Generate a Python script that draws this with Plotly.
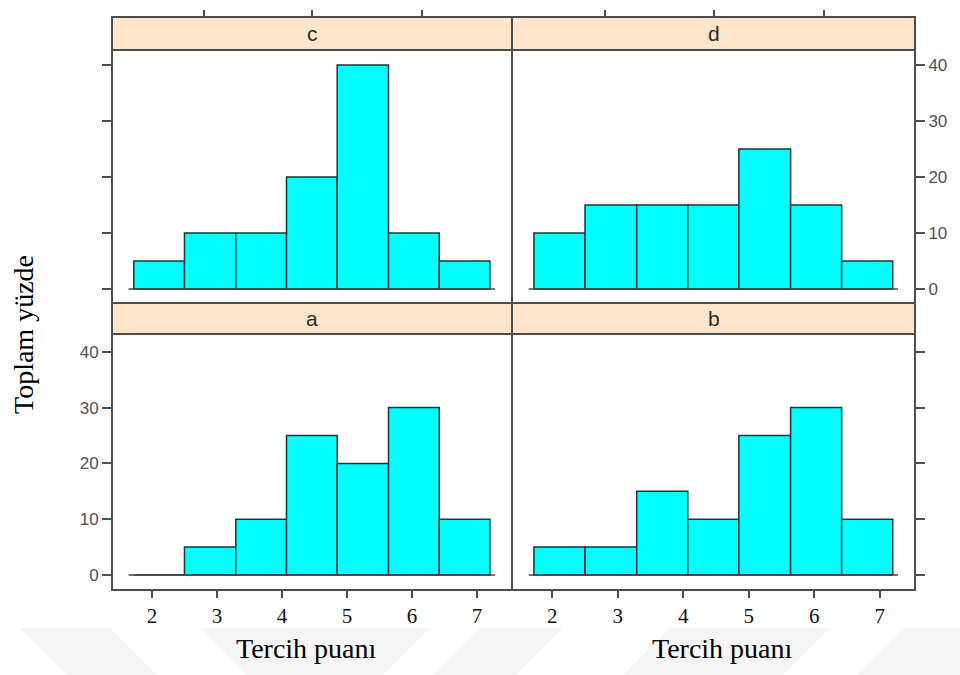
import plotly.graph_objects as go

# ---------------- data ----------------
panels = ["c", "d", "a", "b"]
bin_edges = [1.72, 2.50, 3.29, 4.07, 4.85, 5.64, 6.42, 7.20]
pct_c = [5, 10, 10, 20, 40, 10, 5]
pct_d = [10, 15, 15, 15, 25, 15, 5]
pct_a = [0, 5, 10, 25, 20, 30, 10]
pct_b = [5, 5, 15, 10, 25, 30, 10]
x_tick_vals = [2, 3, 4, 5, 6, 7]
x_tick_text = ["2", "3", "4", "5", "6", "7"]
top_tick_vals = [2.80, 4.47, 6.15]
y_tick_vals = [0, 10, 20, 30, 40]
y_tick_text = ["0", "10", "20", "30", "40"]
x_title = "Tercih puanı"
y_title = "Toplam yüzde"

W, H = 960, 675
def fx(p): return p / W
def fy(p): return 1 - p / H

centers = [(bin_edges[i] + bin_edges[i + 1]) / 2 for i in range(len(bin_edges) - 1)]
widths = [bin_edges[i + 1] - bin_edges[i] for i in range(len(bin_edges) - 1)]

BAR = "#00FFFF"
EDGE = "#1d3636"
FRAME = "#4d4d4d"
STRIP = "#FFE5CC"

x_range = [1.385, 7.54]
# pixel layout
L, M, R = 112, 512, 915
TOP_STRIP = (17, 50)
TOP_PLOT = (50, 303)
BOT_STRIP = (303, 334)
BOT_PLOT = (334, 590)

fig = go.Figure()
series = {"c": pct_c, "d": pct_d, "a": pct_a, "b": pct_b}
for i, name in enumerate(panels):
    ax = "" if i == 0 else str(i + 1)
    fig.add_trace(go.Scatter(
        x=[bin_edges[0] - 0.08, bin_edges[-1] + 0.08], y=[0, 0],
        mode="lines", line=dict(color="#3a4a4a", width=1.6),
        xaxis="x" + ax, yaxis="y" + ax, hoverinfo="skip"))
    fig.add_trace(go.Bar(
        x=centers, y=series[name], width=widths,
        marker=dict(color=BAR, line=dict(color=EDGE, width=1.5)),
        xaxis="x" + ax, yaxis="y" + ax))

tickfont_y = dict(family="Liberation Sans", size=17, color="#505050")
tickfont_x = dict(family="Liberation Serif", size=21, color="#111")

common_x = dict(range=x_range, showgrid=False, zeroline=False, showline=False,
                ticks="outside", ticklen=7, tickwidth=1.5, tickcolor=FRAME)
common_y = dict(showgrid=False, zeroline=False, showline=False,
                ticks="outside", ticklen=9, tickwidth=1.5, tickcolor=FRAME,
                tickvals=y_tick_vals, ticktext=y_tick_text, tickfont=tickfont_y)

top_yr = [-2.5, 42.7]
bot_yr = [-2.7, 43.2]

fig.update_layout(
    width=W, height=H, margin=dict(l=0, r=0, t=0, b=0),
    paper_bgcolor="white", plot_bgcolor="white", showlegend=False,
    xaxis=dict(domain=[fx(L), fx(M)], side="top", anchor="free", position=fy(TOP_STRIP[0]),
               tickvals=top_tick_vals, showticklabels=False, **common_x),
    xaxis2=dict(domain=[fx(M), fx(R)], side="top", anchor="free", position=fy(TOP_STRIP[0]),
                tickvals=top_tick_vals, showticklabels=False, **common_x),
    xaxis3=dict(domain=[fx(L), fx(M)], anchor="y3", tickvals=x_tick_vals, ticktext=x_tick_text,
                tickfont=tickfont_x, **common_x),
    xaxis4=dict(domain=[fx(M), fx(R)], anchor="y4", tickvals=x_tick_vals, ticktext=x_tick_text,
                tickfont=tickfont_x, **common_x),
    yaxis=dict(domain=[fy(TOP_PLOT[1]), fy(TOP_PLOT[0])], anchor="x", range=top_yr,
               showticklabels=False, **common_y),
    yaxis2=dict(domain=[fy(TOP_PLOT[1]), fy(TOP_PLOT[0])], anchor="x2", side="right", range=top_yr,
                **common_y),
    yaxis3=dict(domain=[fy(BOT_PLOT[1]), fy(BOT_PLOT[0])], anchor="x3", range=bot_yr,
                **common_y),
    yaxis4=dict(domain=[fy(BOT_PLOT[1]), fy(BOT_PLOT[0])], anchor="x4", side="right", range=bot_yr,
                showticklabels=False, **common_y),
)

shapes = []
# watermark (faint)
wm = [((20, 110), (67, 157)), ((200, 330), (247, 377)), ((330, 430), (283, 383)),
      ((480, 563), (433, 516)), ((670, 830), (623, 783)), ((905, 960), (858, 960))]
for (t0, t1), (b0, b1) in wm:
    shapes.append(dict(type="path", xref="paper", yref="paper", layer="below",
                       path=f"M {fx(t0)} {fy(628)} L {fx(t1)} {fy(628)} L {fx(b1)} {fy(675)} L {fx(b0)} {fy(675)} Z",
                       fillcolor="#f5f5f5", line=dict(width=0)))
# strips
for (s0, s1) in [TOP_STRIP, BOT_STRIP]:
    for (c0, c1) in [(L, M), (M, R)]:
        shapes.append(dict(type="rect", xref="paper", yref="paper",
                           x0=fx(c0), x1=fx(c1), y0=fy(s1), y1=fy(s0),
                           fillcolor=STRIP, line=dict(color=FRAME, width=2), layer="below"))
# plot frames
for (p0, p1) in [TOP_PLOT, BOT_PLOT]:
    for (c0, c1) in [(L, M), (M, R)]:
        shapes.append(dict(type="rect", xref="paper", yref="paper",
                           x0=fx(c0), x1=fx(c1), y0=fy(p1), y1=fy(p0),
                           line=dict(color=FRAME, width=2), layer="above"))
fig.update_layout(shapes=shapes)

ann = []
strip_pos = {"c": ((L + M) / 2, sum(TOP_STRIP) / 2), "d": ((M + R) / 2, sum(TOP_STRIP) / 2),
             "a": ((L + M) / 2, sum(BOT_STRIP) / 2), "b": ((M + R) / 2, sum(BOT_STRIP) / 2)}
for name in panels:
    px, py = strip_pos[name]
    ann.append(dict(text=name, x=fx(px), y=fy(py), xref="paper", yref="paper", showarrow=False,
                    font=dict(family="Liberation Sans", size=21, color="#2a2a2a"),
                    xanchor="center", yanchor="middle"))
for cx in [306, 722]:
    ann.append(dict(text=x_title, x=fx(cx), y=fy(648), xref="paper", yref="paper", showarrow=False,
                    font=dict(family="Liberation Serif", size=28, color="black"),
                    xanchor="center", yanchor="middle"))
ann.append(dict(text=y_title, x=fx(24), y=fy(335), xref="paper", yref="paper", showarrow=False,
                textangle=-90, font=dict(family="Liberation Serif", size=28, color="black"),
                xanchor="center", yanchor="middle"))
fig.update_layout(annotations=ann)

fig.write_html("out.html")
